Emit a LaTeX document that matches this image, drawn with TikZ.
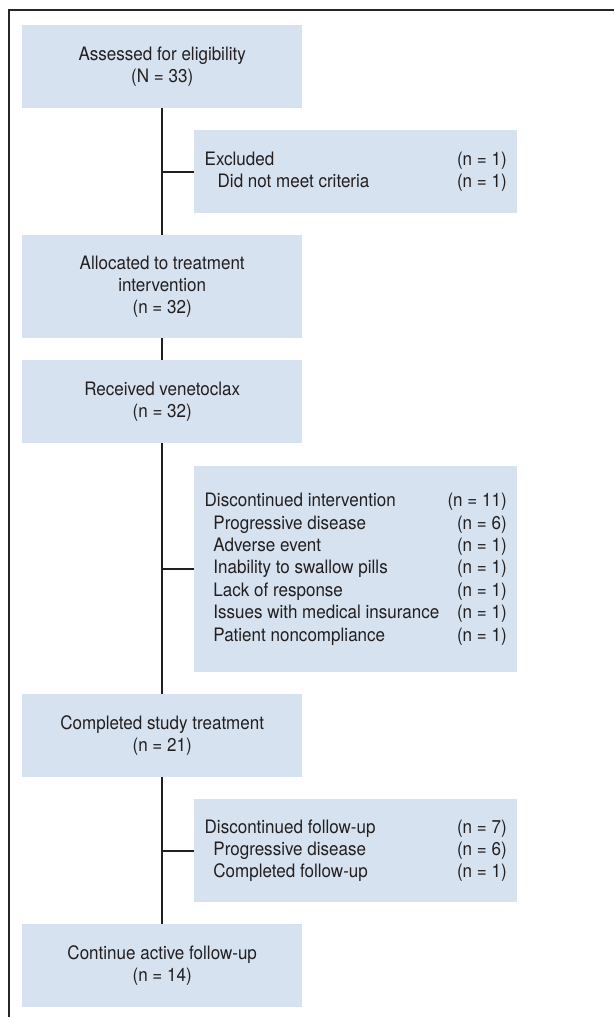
\documentclass[tikz,border=0pt]{standalone}
\usepackage{fontspec}
\setmainfont{TeX Gyre Heros}[FakeStretch=0.92]
\definecolor{boxblue}{RGB}{214,226,240}
\definecolor{ink}{RGB}{35,31,32}
\newcommand{\crow}[2]{\makebox[302pt][l]{#1\hfill#2}}
\newcommand{\csub}[2]{\makebox[302pt][l]{\hspace*{8.7pt}#1\hfill#2}}
\begin{document}
\begin{tikzpicture}[x=1pt,y=-1pt,
  every node/.style={font=\fontsize{18.5}{22.4}\selectfont, text=ink},
  mainbox/.style={fill=boxblue, minimum width=280pt, minimum height=83pt, inner sep=0pt, align=center, anchor=north west},
  sidebox/.style={fill=boxblue, minimum width=323pt, inner sep=0pt, align=left, anchor=north west},
  link/.style={draw=ink, line width=1.6pt}]
\useasboundingbox (0,0) rectangle (614,1017);
\draw[line width=1.1pt, draw=black!85] (9,1017) -- (9,10) -- (614,10);

\node[mainbox] (b1) at (22,25) {Assessed for eligibility\\(N = 33)};
\node[sidebox, minimum height=83pt] (e1) at (194,130)
  {\crow{Excluded}{(n = 1)}\\\crow{\hspace*{13pt}Did not meet criteria}{(n = 1)}};
\node[mainbox, minimum height=103pt] (b2) at (22,235) {Allocated to treatment\\intervention\\(n = 32)};
\node[mainbox] (b3) at (22,360) {Received venetoclax\\(n = 32)};
\node[sidebox, minimum height=206pt] (e2) at (194,466)
  {\crow{Discontinued intervention}{(n = 11)}\\
   \csub{Progressive disease}{(n = 6)}\\
   \csub{Adverse event}{(n = 1)}\\
   \csub{Inability to swallow pills}{(n = 1)}\\
   \csub{Lack of response}{(n = 1)}\\
   \csub{Issues with medical insurance}{(n = 1)}\\
   \csub{Patient noncompliance}{(n = 1)}};
\node[mainbox] (b4) at (22,694) {Completed study treatment\\(n = 21)};
\node[sidebox, minimum height=103pt] (e3) at (194,799)
  {\crow{Discontinued follow-up}{(n = 7)}\\
   \csub{Progressive disease}{(n = 6)}\\
   \csub{Completed follow-up}{(n = 1)}};
\node[mainbox] (b5) at (22,924) {Continue active follow-up\\(n = 14)};

\draw[link] (b1.south) -- (b2.north);
\draw[link] (b2.south) -- (b3.north);
\draw[link] (b3.south) -- (b4.north);
\draw[link] (b4.south) -- (b5.north);
\draw[link] (b1.south |- e1.west) -- (e1.west);
\draw[link] (b3.south |- e2.west) -- (e2.west);
\draw[link] (b4.south |- e3.west) -- (e3.west);
\end{tikzpicture}
\end{document}
